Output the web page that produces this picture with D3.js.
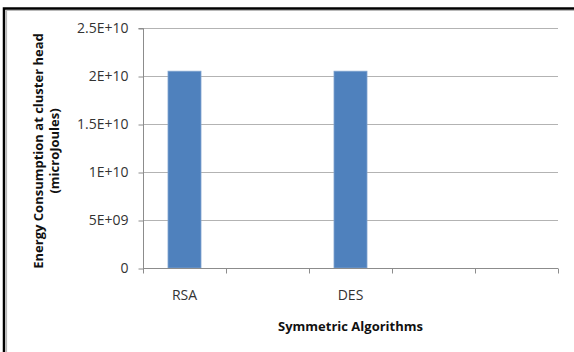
<!DOCTYPE html>
<html>
<head>
<meta charset="utf-8">
<script src="https://cdn.jsdelivr.net/npm/d3@7/dist/d3.min.js"></script>
<style>
  html, body { margin: 0; padding: 0; background: #fff; }
  svg { display: block; }
  text { font-family: "Open Sans", Lato, sans-serif; }
</style>
</head>
<body>
<svg id="chart" width="574" height="352"></svg>
<script>
// Category slots along the x axis (empty slots have no bar)
const categories = ["RSA", "", "DES", "", ""];
const slotIds = ["c0", "c1", "c2", "c3", "c4"];
// Energy consumption at the cluster head, microJoules
const energyValues = [2.05e10, null, 2.05e10, null, null];
const yTicks = [0, 5e9, 1e10, 1.5e10, 2e10, 2.5e10];
const yTickLabels = ["0", "5E+09", "1E+10", "1.5E+10", "2E+10", "2.5E+10"];

const svg = d3.select("#chart");
const W = 574, H = 352;
const plot = { left: 143, right: 558, top: 28, bottom: 268 };

// Frame around the chart
svg.append("rect").attr("x", 0).attr("y", 0).attr("width", W).attr("height", H).attr("fill", "#fff");
svg.append("path").attr("d", `M4,${H} V8.5 H${W}`).attr("fill", "none")
  .attr("stroke", "#000").attr("stroke-width", 2.5);
svg.append("path").attr("d", `M6.5,${H} V10.5 H${W}`).attr("fill", "none")
  .attr("stroke", "#b8b8b8").attr("stroke-width", 1.2);

const x = d3.scaleBand().domain(slotIds).range([plot.left, plot.right]).paddingInner(0).paddingOuter(0);
const y = d3.scaleLinear().domain([0, 2.5e10]).range([plot.bottom, plot.top]);

// Horizontal gridlines
svg.append("g").selectAll("line").data(yTicks.filter(d => d > 0)).join("line")
  .attr("x1", plot.left).attr("x2", plot.right)
  .attr("y1", d => Math.round(y(d)) + 0.5).attr("y2", d => Math.round(y(d)) + 0.5)
  .attr("stroke", "#b3b3b3").attr("stroke-width", 1);

// Bars
const bw = 33;
svg.append("g").selectAll("rect")
  .data(slotIds.map((id, i) => ({ id, v: energyValues[i] })).filter(d => d.v != null))
  .join("rect")
  .attr("x", d => x(d.id) + x.bandwidth() / 2 - bw / 2)
  .attr("y", d => y(d.v))
  .attr("width", bw)
  .attr("height", d => y(0) - y(d.v))
  .attr("fill", "#4f81bd")
  .attr("stroke", "#7fa3cf").attr("stroke-width", 0.8);

// Y axis
const yAxis = d3.axisLeft(y).tickValues(yTicks)
  .tickFormat((d, i) => yTickLabels[i]).tickSize(5).tickPadding(10);
const gy = svg.append("g").attr("transform", `translate(${plot.left + 0.5},0.5)`).call(yAxis);
gy.select(".domain").attr("stroke", "#8c8c8c").attr("d", `M-5,${plot.top}H0V${plot.bottom}`);
gy.selectAll(".tick line").attr("stroke", "#8c8c8c");
gy.selectAll(".tick text").attr("font-size", 14).attr("fill", "#333");

// X axis with ticks at slot boundaries
const gx = svg.append("g").attr("transform", `translate(0,${plot.bottom + 0.5})`);
gx.append("line").attr("x1", plot.left).attr("x2", plot.right).attr("stroke", "#8c8c8c");
const boundaries = slotIds.map(id => x(id)).concat([x(slotIds[slotIds.length - 1]) + x.bandwidth()]);
gx.selectAll("line.tk").data(boundaries).join("line").attr("class", "tk")
  .attr("x1", d => Math.round(d) + 0.5).attr("x2", d => Math.round(d) + 0.5)
  .attr("y1", 0).attr("y2", 5).attr("stroke", "#8c8c8c");
gx.selectAll("text").data(slotIds.map((id, i) => ({ id, label: categories[i] }))).join("text")
  .attr("x", d => x(d.id) + x.bandwidth() / 2)
  .attr("y", 31)
  .attr("text-anchor", "middle")
  .attr("font-size", 14).attr("fill", "#333")
  .text(d => d.label);

// Axis titles
svg.append("text").attr("x", (plot.left + plot.right) / 2).attr("y", 331)
  .attr("text-anchor", "middle").attr("font-size", 13).attr("font-weight", "bold").attr("fill", "#111")
  .text("Symmetric Algorithms");

const cy = (plot.top + plot.bottom) / 2 + 3;
const yt = svg.append("text").attr("transform", `translate(43,${cy}) rotate(-90)`)
  .attr("text-anchor", "middle").attr("font-size", 13).attr("font-weight", "bold").attr("fill", "#111");
yt.append("tspan").attr("x", 0).attr("dy", 0).text("Energy Consumption at cluster head");
yt.append("tspan").attr("x", 0).attr("dy", 16).text("(microJoules)");
</script>
</body>
</html>
